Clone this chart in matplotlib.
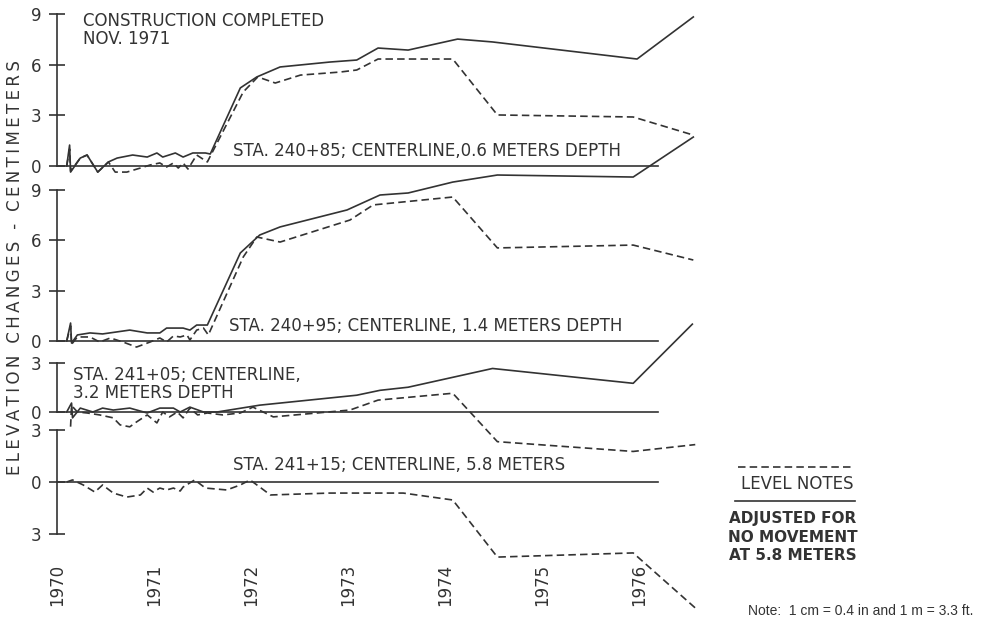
import matplotlib
matplotlib.use("Agg")
import matplotlib.pyplot as plt
from matplotlib.lines import Line2D

#%% ─── Data (elevation change, cm) ─────────────────────────────────────────────

# STA. 240+85, 0.6 m
p1_solid_yr  = [1970.10, 1970.13, 1970.14, 1970.24, 1970.31, 1970.42, 1970.53, 1970.62, 1970.78,
                1970.93, 1971.03, 1971.09, 1971.22, 1971.30, 1971.40, 1971.53, 1971.58, 1971.89,
                1972.06, 1972.30, 1972.81, 1973.09, 1973.31, 1973.62, 1974.13, 1974.49, 1975.98, 1976.56]
p1_solid_val = [0.0, 1.24, -0.36, 0.47, 0.65, -0.36, 0.24, 0.47, 0.65,
                0.53, 0.77, 0.53, 0.77, 0.53, 0.77, 0.77, 0.71, 4.62,
                5.27, 5.86, 6.15, 6.27, 6.98, 6.86, 7.51, 7.34, 6.33, 8.82]
p1_dash_yr   = [1970.10, 1970.13, 1970.14, 1970.24, 1970.31, 1970.42, 1970.53, 1970.60, 1970.72,
                1970.86, 1970.96, 1971.06, 1971.13, 1971.20, 1971.25, 1971.30, 1971.35, 1971.44,
                1971.55, 1971.92, 1972.07, 1972.25, 1972.51, 1972.92, 1973.09, 1973.31, 1974.08,
                1974.54, 1975.94, 1976.56]
p1_dash_val  = [0.0, 1.0, -0.3, 0.47, 0.65, -0.36, 0.24, -0.36, -0.36,
                -0.12, 0.06, 0.18, -0.06, 0.18, -0.12, 0.18, -0.18, 0.65,
                0.24, 4.38, 5.27, 4.91, 5.38, 5.56, 5.68, 6.33, 6.33,
                3.02, 2.90, 1.83]

# STA. 240+95, 1.4 m
p2_solid_yr  = [1970.10, 1970.14, 1970.15, 1970.21, 1970.34, 1970.47, 1970.75, 1970.93, 1971.06,
                1971.13, 1971.30, 1971.37, 1971.44, 1971.55, 1971.89, 1972.09, 1972.30, 1972.99,
                1973.33, 1973.62, 1974.08, 1974.54, 1975.94, 1976.56]
p2_solid_val = [0.0, 1.07, -0.12, 0.36, 0.48, 0.42, 0.65, 0.48, 0.48,
                0.77, 0.77, 0.65, 0.95, 0.95, 5.24, 6.31, 6.79, 7.80,
                8.69, 8.81, 9.46, 9.88, 9.76, 12.14]
p2_dash_yr   = [1970.10, 1970.14, 1970.15, 1970.21, 1970.34, 1970.44, 1970.55, 1970.68, 1970.82,
                1970.96, 1971.06, 1971.13, 1971.20, 1971.27, 1971.34, 1971.37, 1971.44, 1971.51,
                1971.56, 1971.92, 1972.06, 1972.30, 1973.02, 1973.26, 1974.08, 1974.54, 1975.94,
                1976.56]
p2_dash_val  = [0.0, 0.9, -0.2, 0.24, 0.24, -0.06, 0.18, -0.06, -0.36,
                -0.06, 0.18, -0.06, 0.30, 0.24, 0.36, 0.06, 0.65, 0.77,
                0.36, 5.0, 6.19, 5.89, 7.20, 8.10, 8.57, 5.54, 5.71,
                4.82]

# STA. 241+05, 3.2 m
p3_solid_yr  = [1970.10, 1970.15, 1970.16, 1970.24, 1970.37, 1970.47, 1970.58, 1970.75, 1970.93,
                1971.06, 1971.20, 1971.27, 1971.37, 1971.51, 1971.65, 1972.09, 1973.09, 1973.33,
                1973.62, 1974.49, 1975.94, 1976.55]
p3_solid_val = [0.0, 0.55, -0.36, 0.24, 0.0, 0.24, 0.12, 0.24, -0.06,
                0.24, 0.24, 0.0, 0.30, 0.0, 0.0, 0.42, 1.03, 1.33,
                1.52, 2.67, 1.76, 5.39]
p3_dash_yr   = [1970.14, 1970.15, 1970.21, 1970.31, 1970.44, 1970.58, 1970.65, 1970.75, 1970.82,
                1970.93, 1971.03, 1971.09, 1971.16, 1971.24, 1971.30, 1971.37, 1971.45, 1971.55,
                1971.71, 1971.89, 1972.02, 1972.23, 1973.02, 1973.31, 1974.08, 1974.54, 1975.94,
                1976.58]
p3_dash_val  = [-0.9, 0.4, 0.0, -0.06, -0.18, -0.36, -0.79, -0.91, -0.61,
                -0.18, -0.67, 0.0, -0.30, 0.0, -0.36, 0.24, -0.18, -0.06,
                -0.18, -0.06, 0.30, -0.30, 0.12, 0.73, 1.15, -1.82, -2.42,
                -2.0]

# STA. 241+15, 5.8 m (reference depth, level notes only)
p4_dash_yr   = [1970.10, 1970.16, 1970.27, 1970.39, 1970.47, 1970.58, 1970.72, 1970.86, 1970.93,
                1970.99, 1971.06, 1971.13, 1971.20, 1971.27, 1971.30, 1971.42, 1971.53, 1971.75,
                1971.89, 1971.99, 1972.09, 1972.20, 1972.81, 1973.57, 1974.08, 1974.54, 1975.94,
                1976.58]
p4_dash_val  = [0.0, 0.12, -0.17, -0.58, -0.17, -0.64, -0.87, -0.75, -0.35,
                -0.58, -0.35, -0.46, -0.35, -0.52, -0.29, 0.12, -0.35, -0.46,
                -0.17, 0.12, -0.29, -0.75, -0.64, -0.64, -1.04, -4.34, -4.10,
                -7.28]

years = [1970, 1971, 1972, 1973, 1974, 1975, 1976]

p1_label = "STA. 240+85; CENTERLINE,0.6 METERS DEPTH"
p2_label = "STA. 240+95; CENTERLINE, 1.4 METERS DEPTH"
p3_label = "STA. 241+05; CENTERLINE,\n3.2 METERS DEPTH"
p4_label = "STA. 241+15; CENTERLINE, 5.8 METERS"
y_label  = "ELEVATION CHANGES - CENTIMETERS"

#%% ─── Layout ───────────────────────────────────────────────────────────────────

W, H = 999, 627
INK = "#333333"
LW = 1.2
DASH = (4.5, 2.5)
FS = 12

plt.rcParams["font.family"] = "DejaVu Sans"

fig = plt.figure(figsize=(W / 100, H / 100), dpi=100)
fig.patch.set_facecolor("white")

x0 = 1970 - 57 / 97
x1 = 1970 + (W - 57) / 97


def make_panel(zero_px, ppc, lo, hi, bounds, ticks, ticklabels):
    bottom = 1 - (zero_px - lo * ppc) / H
    top = 1 - (zero_px - hi * ppc) / H
    ax = fig.add_axes([0, bottom, 1, top - bottom])
    ax.patch.set_visible(False)
    ax.set_xlim(x0, x1)
    ax.set_ylim(lo, hi)
    for s in ["top", "right", "bottom"]:
        ax.spines[s].set_visible(False)
    ax.spines["left"].set_position(("data", 1970))
    ax.spines["left"].set_bounds(*bounds)
    ax.spines["left"].set_color(INK)
    ax.spines["left"].set_linewidth(LW)
    ax.set_yticks(ticks)
    ax.set_yticklabels(ticklabels)
    ax.tick_params(axis="y", direction="inout", length=11, width=LW, color=INK,
                   labelsize=FS, labelcolor=INK, pad=6)
    ax.set_xticks([])
    # zero reference line
    ax.plot([1970, 1976.2], [0, 0], color=INK, lw=LW, clip_on=False)
    return ax


ax1 = make_panel(166, 16.9, -0.6, 9.4, (0, 9), [0, 3, 6, 9], ["0", "3", "6", "9"])
ax2 = make_panel(341, 16.8, -0.6, 12.4, (0, 9), [0, 3, 6, 9], ["0", "3", "6", "9"])
ax3 = make_panel(412, 16.3, -2.6, 5.6, (0, 3), [0, 3], ["0", "3"])
ax4 = make_panel(482, 17.3, -7.5, 3.2, (-3, 3), [-3, 0, 3], ["3", "0", "3"])

#%% ─── Curves ───────────────────────────────────────────────────────────────────

for ax, sy, sv in [(ax1, p1_solid_yr, p1_solid_val),
                   (ax2, p2_solid_yr, p2_solid_val),
                   (ax3, p3_solid_yr, p3_solid_val)]:
    ax.plot(sy, sv, color=INK, lw=LW, clip_on=False)

for ax, dy, dv in [(ax1, p1_dash_yr, p1_dash_val),
                   (ax2, p2_dash_yr, p2_dash_val),
                   (ax3, p3_dash_yr, p3_dash_val),
                   (ax4, p4_dash_yr, p4_dash_val)]:
    ax.plot(dy, dv, color=INK, lw=LW, dashes=DASH, clip_on=False)

#%% ─── Annotations ──────────────────────────────────────────────────────────────

ax1.text(1970.27, 9.1, "CONSTRUCTION COMPLETED\nNOV. 1971", fontsize=FS, color=INK,
         va="top", ha="left", linespacing=1.0)
ax1.text(1971.81, 0.9, p1_label, fontsize=FS, color=INK, va="center", ha="left")
ax2.text(1971.77, 0.9, p2_label, fontsize=FS, color=INK, va="center", ha="left")
ax3.text(1970.17, 2.85, p3_label, fontsize=FS, color=INK, va="top", ha="left", linespacing=1.0)
ax4.text(1971.81, 1.0, p4_label, fontsize=FS, color=INK, va="center", ha="left")

# x labels (years, rotated)
ax4.spines["bottom"].set_visible(True)
ax4.spines["bottom"].set_color("none")
ax4.spines["bottom"].set_position(("data", -4.55))
ax4.set_xticks(years)
ax4.set_xticklabels([str(y) for y in years], rotation=90)
ax4.tick_params(axis="x", length=0, pad=2, labelsize=FS, labelcolor=INK)

# widely spaced lettering of the axis title
spaced = "\u2009".join(y_label)
fig.text(15 / W, 1 - 268 / H, spaced, rotation=90,
         fontsize=FS, color=INK, ha="center", va="center")

# legend block
fig.add_artist(Line2D([738 / W, 853 / W], [1 - 467 / H, 1 - 467 / H], color=INK, lw=LW,
                      dashes=DASH))
fig.text(797 / W, 1 - 484 / H, "LEVEL NOTES", fontsize=FS, color=INK, ha="center", va="center")
fig.add_artist(Line2D([735 / W, 855 / W], [1 - 501 / H, 1 - 501 / H], color=INK, lw=LW))
fig.text(793 / W, 1 - 537 / H, "ADJUSTED FOR\nNO MOVEMENT\nAT 5.8 METERS", fontsize=FS - 1,
         color=INK, ha="center", va="center", linespacing=1.25, fontweight="bold")

fig.text(748 / W, 1 - 611 / H, "Note:  1 cm = 0.4 in and 1 m = 3.3 ft.", fontsize=10,
         color=INK, ha="left", va="center", fontfamily="Liberation Sans")

fig.savefig("out.png", dpi=100, facecolor="white")
